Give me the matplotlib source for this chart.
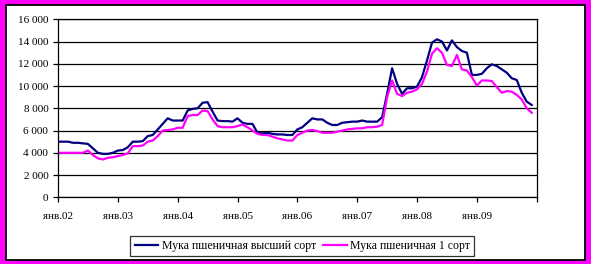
import numpy as np
import matplotlib.pyplot as plt
from matplotlib.patches import Rectangle

plt.rcParams['font.family'] = ['Liberation Serif', 'DejaVu Serif']

# monthly prices, Jan 2002 .. Dec 2009
top_grade = [5000, 5000, 5000, 4900, 4900, 4850, 4800, 4400, 4000, 3900, 3900, 4000,
             4200, 4250, 4500, 5000, 5000, 5050, 5500, 5600, 6100, 6600, 7100, 6900,
             6900, 6900, 7800, 7950, 8000, 8500, 8550, 7700, 6900, 6850, 6850, 6800,
             7100, 6700, 6600, 6600, 5800, 5750, 5800, 5700, 5650, 5650, 5600, 5600,
             6100, 6300, 6700, 7100, 7000, 7000, 6700, 6500, 6500, 6700, 6750, 6800,
             6800, 6900, 6800, 6800, 6800, 7200, 9300, 11600, 10200, 9300, 9800, 9800,
             9950, 10800, 12300, 13900, 14200, 14000, 13200, 14100, 13500, 13150, 13000, 11000,
             11000, 11100, 11600, 11950, 11800, 11500, 11200, 10700, 10550, 9400, 8600, 8300]
first_grade = [4000, 4000, 4000, 4000, 4000, 4000, 4200, 3800, 3500, 3400, 3550, 3600,
               3700, 3800, 3950, 4600, 4600, 4650, 5000, 5100, 5500, 6000, 6050, 6100,
               6250, 6250, 7300, 7400, 7400, 7800, 7750, 7000, 6400, 6300, 6300, 6300,
               6400, 6550, 6300, 6000, 5700, 5600, 5600, 5450, 5300, 5200, 5100, 5100,
               5600, 5800, 6000, 6050, 5950, 5800, 5800, 5800, 5900, 6000, 6100, 6150,
               6200, 6200, 6300, 6300, 6350, 6500, 9000, 10500, 9300, 9100, 9400, 9500,
               9700, 10200, 11300, 12900, 13400, 13000, 11900, 11800, 12800, 11500, 11400, 10800,
               10050, 10500, 10500, 10450, 9900, 9400, 9550, 9500, 9200, 8800, 8000, 7600]
year_labels = ['янв.02', 'янв.03', 'янв.04', 'янв.05', 'янв.06', 'янв.07', 'янв.08', 'янв.09', '']
y_ticks = [0, 2000, 4000, 6000, 8000, 10000, 12000, 14000, 16000]
names = ['Мука пшеничная высший сорт', 'Мука пшеничная 1 сорт']

W, H = 591, 264
fig = plt.figure(figsize=(W / 100, H / 100), dpi=100, facecolor='#FF00FF')

# white panel with black frame
fig.patches.append(Rectangle((5.5 / W, 1 - 259.5 / H), 579.5 / W, 255 / H,
                             transform=fig.transFigure, facecolor='white',
                             edgecolor='black', linewidth=1.3, zorder=-10))

ax = fig.add_axes([58 / W, 1 - 197.3 / H, 478.7 / W, 178 / H])
ax.set_zorder(5)
ax.set_facecolor('white')

months = np.arange(len(top_grade))
ax.plot(months, top_grade, color='#000080', linewidth=1.6, label=names[0])
ax.plot(months, first_grade, color='#FF00FF', linewidth=1.6, label=names[1])

ax.set_xlim(0, 96)
ax.set_ylim(0, 16000)
ax.set_xticks(np.arange(0, 97, 12))
ax.set_xticklabels(year_labels)
ax.set_yticks(y_ticks)
ax.set_yticklabels([f'{v:,}'.replace(',', ' ') for v in y_ticks])
ax.yaxis.grid(True, color='black', linewidth=0.9)
ax.set_axisbelow(True)
for s in ax.spines.values():
    s.set_color('black')
    s.set_linewidth(0.9)
ax.tick_params(axis='both', direction='out', length=3.5, width=0.9, labelsize=8, colors='black')
ax.tick_params(axis='x', pad=7)

leg = fig.legend(loc='center', bbox_to_anchor=(302.3 / W, 1 - 246.3 / H), ncol=2,
                 fontsize=8.5, frameon=True, fancybox=False, handlelength=2.0,
                 columnspacing=0.6, handletextpad=0.3, borderpad=0.35)
leg.get_frame().set_edgecolor('black')
leg.get_frame().set_linewidth(0.9)
leg.set_zorder(6)

fig.savefig('out.png', dpi=100, facecolor=fig.get_facecolor())
